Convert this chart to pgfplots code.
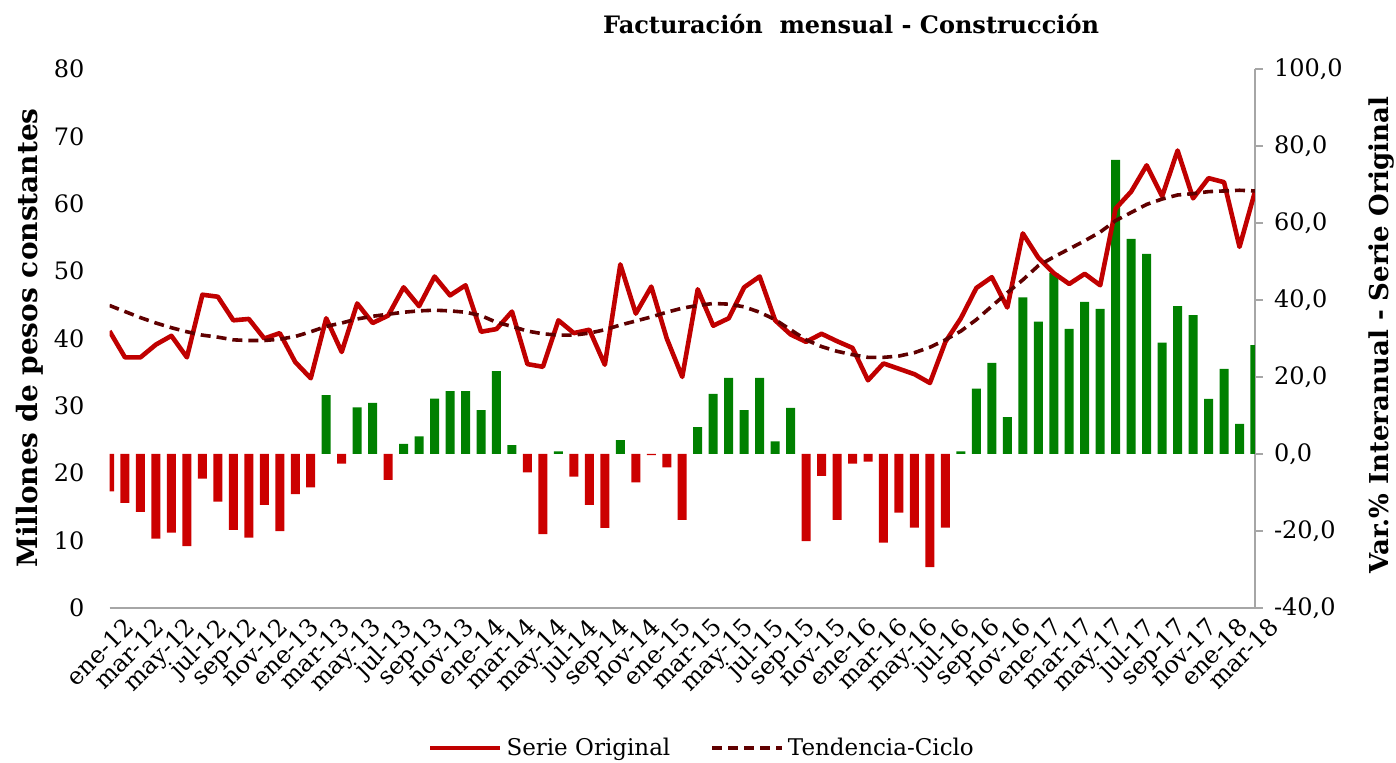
\documentclass[border=0pt]{standalone}
\usepackage{fontspec}
\setmainfont{DejaVu Serif}
\usepackage{pgfplots}
\usepackage{pgfplotstable}
\pgfplotsset{compat=1.18}

\definecolor{origred}{RGB}{192,0,0}
\definecolor{barred}{RGB}{204,0,0}
\definecolor{bargreen}{RGB}{0,128,0}
\definecolor{trendc}{RGB}{96,0,0}
\definecolor{axgray}{RGB}{166,166,166}

\pgfplotstableread{
i orig trend
0 41.1 44.9
1 37.2 44.0
2 37.2 43.1
3 39.1 42.3
4 40.4 41.6
5 37.2 41.0
6 46.5 40.5
7 46.2 40.2
8 42.7 39.8
9 42.9 39.7
10 40.0 39.7
11 40.8 39.9
12 36.5 40.3
13 34.1 41.0
14 43.0 41.8
15 38.0 42.3
16 45.2 42.9
17 42.3 43.3
18 43.4 43.6
19 47.6 43.9
20 44.8 44.1
21 49.2 44.2
22 46.4 44.1
23 47.9 43.9
24 41.0 43.4
25 41.4 42.4
26 44.0 41.8
27 36.2 41.1
28 35.8 40.7
29 42.7 40.5
30 40.8 40.5
31 41.3 40.8
32 36.1 41.3
33 51.0 42.0
34 43.7 42.6
35 47.7 43.2
36 40.0 43.9
37 34.3 44.5
38 47.3 44.9
39 41.9 45.2
40 43.0 45.1
41 47.6 44.7
42 49.2 43.9
43 42.7 42.8
44 40.6 41.3
45 39.5 39.8
46 40.7 38.8
47 39.6 38.1
48 38.6 37.6
49 33.8 37.2
50 36.3 37.2
51 35.5 37.4
52 34.7 37.9
53 33.4 38.7
54 39.5 39.8
55 43.0 41.1
56 47.5 42.8
57 49.1 44.8
58 44.6 46.8
59 55.6 48.7
60 52.0 50.8
61 49.7 52.1
62 48.1 53.3
63 49.6 54.5
64 47.9 55.8
65 59.3 57.5
66 61.8 58.7
67 65.7 59.9
68 61.1 60.7
69 67.9 61.3
70 60.8 61.5
71 63.8 61.8
72 63.2 61.9
73 53.6 62.0
74 61.8 61.9
}\lineData

\begin{document}
\begin{tikzpicture}[x=1pt,y=1pt]
\useasboundingbox (0,0) rectangle (698,-381.5);

% ---------- bars on the right axis ----------
\begin{axis}[
  at={(54.75pt,-304pt)}, anchor=south west,
  scale only axis, width=572.75pt, height=269.5pt,
  xmin=0, xmax=74, ymin=-40, ymax=100,
  axis x line=none,
  axis y line*=right,
  y axis line style={draw=axgray, line width=0.8pt, -},
  ytick={-40,-20,...,100},
  major tick length=4pt, tick align=outside,
  ytick style={draw=axgray, line width=0.8pt},
  yticklabel style={font=\fontsize{12}{14}\selectfont, xshift=2pt,
    /pgf/number format/.cd, fixed, fixed zerofill, precision=1, use comma, assume math mode=true},
]
\addplot[ybar, bar width=4.5pt, bar shift=0pt, fill=bargreen, draw=none] coordinates {
(14,15.3) (16,12.1) (17,13.3) (19,2.6) (20,4.6) (21,14.4) (22,16.3) (23,16.3)
(24,11.4) (25,21.5) (26,2.3) (29,0.7) (33,3.6)
(38,7.0) (39,15.6) (40,19.8) (41,11.4) (42,19.8) (43,3.3) (44,12.0)
(55,0.7) (56,17.0) (57,23.7) (58,9.6) (59,40.7)
(60,34.4) (61,47.0) (62,32.5) (63,39.5) (64,37.7) (65,76.4) (66,55.9) (67,52.0) (68,28.9) (69,38.4) (70,36.1) (71,14.3)
(72,22.1) (73,7.8) (74,28.3)
};
\addplot[ybar, bar width=4.5pt, bar shift=0pt, fill=barred, draw=none] coordinates {
(0,-9.7) (1,-12.7) (2,-15.0) (3,-22.0) (4,-20.4) (5,-23.9) (6,-6.4) (7,-12.4) (8,-19.7) (9,-21.7) (10,-13.2) (11,-20.0)
(12,-10.4) (13,-8.7) (15,-2.5) (18,-6.7)
(27,-4.8) (28,-20.8) (30,-5.9) (31,-13.2) (32,-19.2) (34,-7.4) (35,-0.3)
(36,-3.5) (37,-17.1) (45,-22.6) (46,-5.7) (47,-17.1)
(48,-2.5) (49,-2.0) (50,-23.0) (51,-15.2) (52,-19.1) (53,-29.4) (54,-19.1)
};
\end{axis}

% ---------- lines on the left axis ----------
\begin{axis}[
  at={(54.75pt,-304pt)}, anchor=south west,
  scale only axis, width=572.75pt, height=269.5pt,
  xmin=0, xmax=74, ymin=0, ymax=80,
  axis x line*=bottom, axis y line*=left,
  x axis line style={draw=axgray, line width=0.8pt, -},
  y axis line style={draw=none},
  xtick={0,2,...,74},
  xticklabels={ene-12,mar-12,may-12,jul-12,sep-12,nov-12,
    ene-13,mar-13,may-13,jul-13,sep-13,nov-13,
    ene-14,mar-14,may-14,jul-14,sep-14,nov-14,
    ene-15,mar-15,may-15,jul-15,sep-15,nov-15,
    ene-16,mar-16,may-16,jul-16,sep-16,nov-16,
    ene-17,mar-17,may-17,jul-17,sep-17,nov-17,
    ene-18,mar-18},
  xticklabel style={font=\fontsize{12}{14}\selectfont, rotate=45, anchor=north east, xshift=5pt, yshift=-4pt},
  ytick={0,10,...,80},
  tick style={draw=none},
  yticklabel style={font=\fontsize{12}{14}\selectfont, xshift=-9pt,
    /pgf/number format/assume math mode=true},
  legend columns=2,
  legend style={draw=none, fill=none, at={(0.518,-0.26)}, anchor=center,
    font=\fontsize{11.5}{13}\selectfont,
    /tikz/every even column/.append style={column sep=18pt}},
  legend image code/.code={\draw[#1] (0pt,0pt) -- (35pt,0pt);},
]
\addplot[origred, line width=2.3pt, line join=round] table[x=i, y=orig] {\lineData};
\addlegendentry{Serie Original}
\addplot[trendc, line width=1.8pt, dash pattern=on 5pt off 3pt] table[x=i, y=trend] {\lineData};
\addlegendentry{Tendencia-Ciclo}
\end{axis}

\node at (425.5,-12) {\bfseries\fontsize{12}{14}\selectfont Facturación~ mensual - Construcción};
\node[rotate=90] at (15,-169) {\bfseries\fontsize{14}{16}\selectfont Millones de pesos constantes};
\node[rotate=90] at (690.5,-167.5) {\bfseries\fontsize{13}{15}\selectfont Var.\% Interanual - Serie Original};
\end{tikzpicture}
\end{document}
